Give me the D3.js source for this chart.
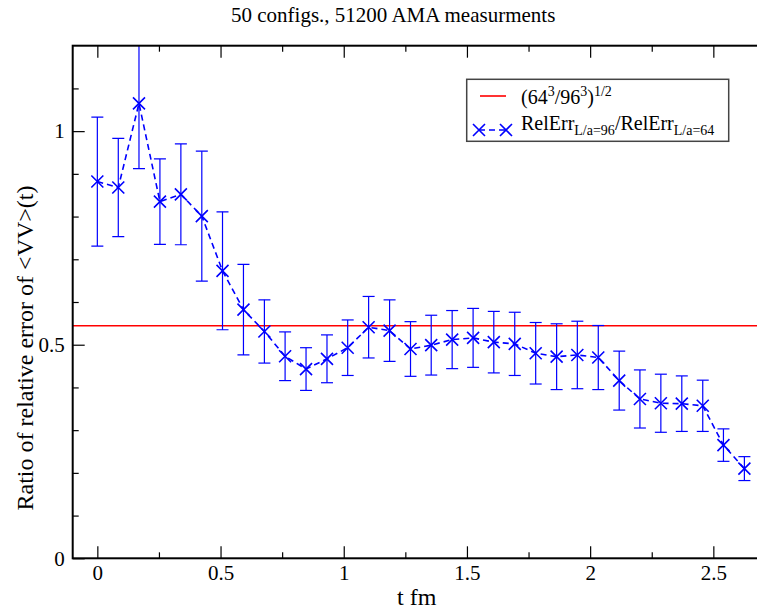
<!DOCTYPE html>
<html>
<head>
<meta charset="utf-8">
<script src="https://cdn.jsdelivr.net/npm/d3@7"></script>
<style>
  html, body { margin: 0; padding: 0; background: #fff; }
  svg { display: block; }
  text { font-family: "Liberation Serif", "Times New Roman", serif; fill: #000; }
</style>
</head>
<body>
<svg id="chart" width="757" height="612"></svg>
<script>
// Euclidean time in fm
const tValues = [0, 0.085, 0.169, 0.254, 0.339, 0.424, 0.508, 0.593, 0.678, 0.762,
  0.847, 0.932, 1.016, 1.101, 1.186, 1.271, 1.355, 1.440, 1.525, 1.609,
  1.694, 1.779, 1.864, 1.948, 2.033, 2.118, 2.202, 2.287, 2.372, 2.457,
  2.541, 2.626];
// RelErr(L/a=96) / RelErr(L/a=64)
const ratioValues = [0.882, 0.868, 1.065, 0.835, 0.852, 0.801, 0.673, 0.582, 0.531, 0.473,
  0.443, 0.467, 0.493, 0.541, 0.533, 0.490, 0.499, 0.512, 0.516, 0.506,
  0.502, 0.480, 0.472, 0.476, 0.470, 0.416, 0.373, 0.363, 0.362, 0.357,
  0.265, 0.210];
const ratioErrors = [0.151, 0.115, 0.153, 0.100, 0.118, 0.152, 0.138, 0.106, 0.074, 0.057,
  0.050, 0.056, 0.065, 0.072, 0.072, 0.064, 0.070, 0.068, 0.069, 0.072,
  0.074, 0.072, 0.077, 0.079, 0.075, 0.069, 0.068, 0.068, 0.065, 0.060,
  0.038, 0.028];
// volume-scaling expectation (64^3/96^3)^(1/2)
const volumeRatio = [Math.sqrt(Math.pow(64, 3) / Math.pow(96, 3))];

const xMajorTicks = [0, 0.5, 1, 1.5, 2, 2.5];
const xMinorTicks = [0.25, 0.75, 1.25, 1.75, 2.25];
const yMajorTicks = [0, 0.5, 1];
const yMinorTicks = [0.1, 0.2, 0.3, 0.4, 0.6, 0.7, 0.8, 0.9, 1.1];
const xTickLabels = ["0", "0.5", "1", "1.5", "2", "2.5"];
const yTickLabels = ["0", "0.5", "1"];

const svg = d3.select("#chart");
const plotLeft = 72.7, plotTop = 45.7, plotBottom = 558.3;
const x = d3.scaleLinear().domain([-0.1, 2.7]).range([plotLeft, plotLeft + 2.8 * 246.4]);
const y = d3.scaleLinear().domain([0, 1.2]).range([plotBottom, plotTop]);
const plotRight = x.range()[1];

const blue = "#0000ff";
const red = "#ff0000";

// clip region for the plotting area
svg.append("defs").append("clipPath").attr("id", "plotClip")
  .append("rect").attr("x", plotLeft).attr("y", plotTop)
  .attr("width", plotRight - plotLeft).attr("height", plotBottom - plotTop);

const plot = svg.append("g").attr("clip-path", "url(#plotClip)");

// horizontal reference line
plot.selectAll("line.ref").data(volumeRatio).enter().append("line")
  .attr("class", "ref")
  .attr("x1", plotLeft).attr("x2", plotRight)
  .attr("y1", d => y(d)).attr("y2", d => y(d))
  .attr("stroke", red).attr("stroke-width", 1.6);

const pts = tValues.map((t, i) => ({ t, v: ratioValues[i], e: ratioErrors[i] }));

// error bars
const capW = 6;
const eb = plot.append("g").attr("stroke", blue).attr("stroke-width", 1.2).attr("fill", "none");
eb.selectAll("line.v").data(pts).enter().append("line")
  .attr("x1", d => x(d.t)).attr("x2", d => x(d.t))
  .attr("y1", d => y(d.v - d.e)).attr("y2", d => y(d.v + d.e));
eb.selectAll("line.top").data(pts).enter().append("line")
  .attr("x1", d => x(d.t) - capW).attr("x2", d => x(d.t) + capW)
  .attr("y1", d => y(d.v + d.e)).attr("y2", d => y(d.v + d.e));
eb.selectAll("line.bot").data(pts).enter().append("line")
  .attr("x1", d => x(d.t) - capW).attr("x2", d => x(d.t) + capW)
  .attr("y1", d => y(d.v - d.e)).attr("y2", d => y(d.v - d.e));

// dashed connecting line
const line = d3.line().x(d => x(d.t)).y(d => y(d.v));
plot.append("path").datum(pts)
  .attr("d", line)
  .attr("fill", "none").attr("stroke", blue)
  .attr("stroke-width", 1.6).attr("stroke-dasharray", "6,4");

// X markers
const ms = 6;
const crossPath = (cx, cy) => `M${cx - ms},${cy - ms}L${cx + ms},${cy + ms}M${cx - ms},${cy + ms}L${cx + ms},${cy - ms}`;
plot.append("g").selectAll("path").data(pts).enter().append("path")
  .attr("d", d => crossPath(x(d.t), y(d.v)))
  .attr("stroke", blue).attr("stroke-width", 1.6).attr("fill", "none");

// axes
const axisStyle = g => {
  g.select(".domain").remove();
  g.selectAll(".tick line").attr("stroke", "#000").attr("stroke-width", 1.2);
  g.selectAll("text").style("font-family", "'Liberation Serif', serif").style("font-size", "21px");
};

svg.append("g").attr("transform", `translate(0,${plotBottom})`)
  .call(d3.axisBottom(x).tickValues(xMajorTicks).tickSize(-12).tickPadding(7)
    .tickFormat((d, i) => xTickLabels[i]))
  .call(axisStyle);
svg.append("g").attr("transform", `translate(0,${plotBottom})`)
  .call(d3.axisBottom(x).tickValues(xMinorTicks).tickSize(-6).tickFormat(""))
  .call(axisStyle);
svg.append("g").attr("transform", `translate(0,${plotTop})`)
  .call(d3.axisTop(x).tickValues(xMajorTicks).tickSize(-12).tickFormat(""))
  .call(axisStyle);
svg.append("g").attr("transform", `translate(0,${plotTop})`)
  .call(d3.axisTop(x).tickValues(xMinorTicks).tickSize(-6).tickFormat(""))
  .call(axisStyle);
svg.append("g").attr("transform", `translate(${plotLeft},0)`)
  .call(d3.axisLeft(y).tickValues(yMajorTicks).tickSize(-12).tickPadding(8)
    .tickFormat((d, i) => yTickLabels[i]))
  .call(axisStyle);
svg.append("g").attr("transform", `translate(${plotLeft},0)`)
  .call(d3.axisLeft(y).tickValues(yMinorTicks).tickSize(-6).tickFormat(""))
  .call(axisStyle);

// frame
svg.append("rect").attr("x", plotLeft).attr("y", plotTop)
  .attr("width", plotRight - plotLeft).attr("height", plotBottom - plotTop)
  .attr("fill", "none").attr("stroke", "#000").attr("stroke-width", 2);

// title and axis labels
svg.append("text").attr("x", 231).attr("y", 22)
  .style("font-size", "21px").text("50 configs., 51200 AMA measurments");
svg.append("text").attr("x", 397).attr("y", 605)
  .style("font-size", "24px").text("t fm");
svg.append("text")
  .attr("transform", `translate(33,348) rotate(-90)`)
  .attr("text-anchor", "middle")
  .style("font-size", "24px").text("Ratio of relative error of <VV>(t)");

// legend
const lg = svg.append("g");
lg.append("rect").attr("x", 466.7).attr("y", 79.3).attr("width", 262).attr("height", 62)
  .attr("fill", "#fff").attr("stroke", "#444").attr("stroke-width", 1.5);
lg.append("line").attr("x1", 480).attr("x2", 506).attr("y1", 96).attr("y2", 96)
  .attr("stroke", red).attr("stroke-width", 1.6);
const t1 = lg.append("text").attr("x", 521).attr("y", 104).style("font-size", "20px");
t1.append("tspan").text("(64");
t1.append("tspan").attr("dy", -8).style("font-size", "14px").text("3");
t1.append("tspan").attr("dy", 8).text("/96");
t1.append("tspan").attr("dy", -8).style("font-size", "14px").text("3");
t1.append("tspan").attr("dy", 8).text(")");
t1.append("tspan").attr("dy", -8).style("font-size", "14px").text("1/2");

lg.append("line").attr("x1", 479).attr("x2", 506).attr("y1", 130).attr("y2", 130)
  .attr("stroke", blue).attr("stroke-width", 1.6).attr("stroke-dasharray", "6,4");
lg.selectAll("path.lm").data([479, 506]).enter().append("path")
  .attr("d", d => crossPath(d, 130))
  .attr("stroke", blue).attr("stroke-width", 1.6).attr("fill", "none");
const t2 = lg.append("text").attr("x", 521).attr("y", 130).style("font-size", "20px");
t2.append("tspan").text("RelErr");
t2.append("tspan").attr("dy", 5).style("font-size", "14px").text("L/a=96");
t2.append("tspan").attr("dy", -5).text("/RelErr");
t2.append("tspan").attr("dy", 5).style("font-size", "14px").text("L/a=64");
</script>
</body>
</html>
